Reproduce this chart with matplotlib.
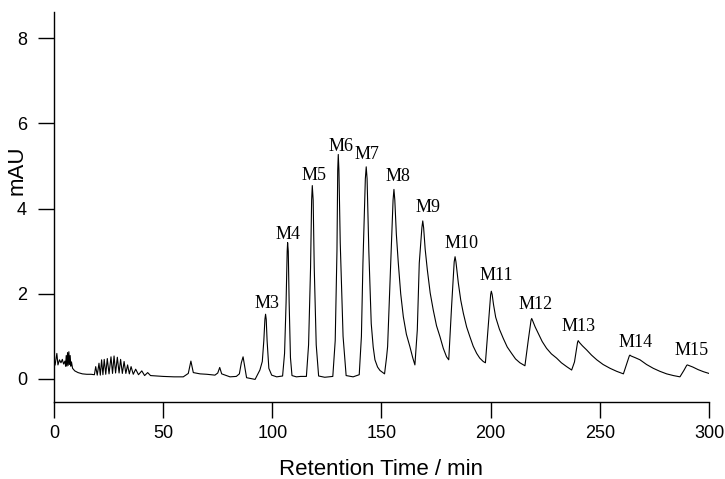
import numpy as np
import matplotlib
matplotlib.use('Agg')
from matplotlib import pyplot as plt


# chromatogram trace (retention time in min, signal in mAU)
time = [0.5, 1.3, 1.8, 2.5, 3.2, 3.8, 4.4, 5.0,
        5.3, 5.6, 5.9, 6.2, 6.5, 6.8, 7.1, 7.4, 7.7, 8.0, 8.5, 9.5,
        11.0, 13.0, 15.0, 17.0, 18.5,
        19.1, 19.8, 20.6, 21.2, 21.8, 22.4, 23.0, 23.7, 24.4, 25.2,
        26.1, 26.8, 27.5, 28.2, 29.0, 29.8, 30.5, 31.3, 32.1, 32.9,
        33.7, 34.5, 35.3, 36.3, 37.4, 38.7, 40.2, 41.5, 42.9, 44.2,
        47.0, 50.0, 55.0, 59.2, 61.5, 62.7, 63.8, 66.9, 70.0, 73.7,
        75.0, 75.9, 76.8, 80.6, 83.5, 84.9, 85.8, 86.6, 87.3, 88.2,
        92.1, 94.3, 95.4, 96.1, 96.6, 96.9, 97.2, 97.6, 98.4, 99.7,
        102.0, 104.7, 105.6, 106.3, 106.8, 107.0, 107.3, 107.7, 108.3, 109.0,
        111.0, 113.0, 115.6, 116.6, 117.5, 118.0, 118.3, 118.7, 119.2, 120.1,
        121.2, 124.0, 127.7, 128.8, 129.6, 129.95, 130.2, 130.5, 131.1, 132.4,
        133.8, 137.0, 139.8, 140.8, 141.5, 142.6, 143.0, 143.4, 144.2, 145.3,
        146.2, 147.0, 148.2, 149.3, 151.4, 152.3, 152.8, 154.2, 155.3, 155.7,
        156.1, 156.8, 157.7, 158.8, 160.0, 161.4, 163.0, 164.3, 165.3, 166.4,
        167.3, 168.5, 168.9, 169.3, 170.0, 171.0, 172.3, 173.7, 175.2, 176.8,
        178.3, 179.8, 180.8, 182.1, 183.3, 183.7, 184.1, 185.2, 186.3, 187.5,
        189.0, 190.5, 192.0, 193.6, 195.0, 196.6, 197.6, 199.0, 200.0, 200.3,
        200.7, 201.3, 202.3, 204.0, 205.8, 207.6, 209.6, 211.4, 213.4, 215.7,
        217.2, 218.5, 218.8, 219.3, 220.4, 221.8, 223.6, 225.6, 227.8, 230.2,
        232.4, 234.8, 237.1, 238.4, 239.8, 240.1, 240.6, 242.0, 244.0, 246.2,
        248.6, 251.5, 254.7, 257.7, 260.8, 262.3, 263.5, 263.8, 264.3, 266.2,
        268.4, 271.4, 274.5, 277.5, 280.6, 283.7, 286.7, 288.5, 289.8, 290.1,
        290.6, 292.6, 295.0, 297.5, 300.0]
signal = [0.33, 0.60, 0.33, 0.45, 0.38, 0.46, 0.35, 0.42,
          0.30, 0.55, 0.30, 0.62, 0.32, 0.64, 0.34, 0.55, 0.30, 0.40, 0.25, 0.19,
          0.15, 0.12, 0.11, 0.11, 0.10,
          0.29, 0.09, 0.37, 0.09, 0.45, 0.10, 0.46, 0.11, 0.48, 0.12,
          0.52, 0.13, 0.54, 0.14, 0.51, 0.14, 0.46, 0.13, 0.41, 0.13,
          0.33, 0.12, 0.29, 0.11, 0.23, 0.10, 0.19, 0.08, 0.15, 0.08,
          0.07, 0.06, 0.05, 0.05, 0.13, 0.42, 0.15, 0.12, 0.11, 0.09,
          0.14, 0.27, 0.12, 0.05, 0.06, 0.12, 0.38, 0.52, 0.30, 0.03,
          -0.01, 0.21, 0.41, 0.90, 1.40, 1.52, 1.40, 0.90, 0.25, 0.09,
          0.05, 0.07, 0.60, 1.80, 3.00, 3.20, 3.00, 1.80, 0.50, 0.08,
          0.05, 0.06, 0.06, 0.80, 2.60, 4.20, 4.54, 4.20, 2.60, 0.80,
          0.07, 0.04, 0.06, 0.90, 3.00, 4.90, 5.27, 4.90, 3.20, 1.00,
          0.08, 0.05, 0.10, 1.00, 2.72, 4.70, 4.98, 4.70, 3.00, 1.30,
          0.75, 0.45, 0.28, 0.20, 0.12, 0.50, 0.76, 2.72, 4.20, 4.45,
          4.20, 3.40, 2.72, 2.00, 1.46, 1.05, 0.76, 0.50, 0.33, 1.15,
          2.72, 3.55, 3.71, 3.55, 3.05, 2.56, 2.02, 1.62, 1.25, 0.99,
          0.72, 0.52, 0.45, 1.70, 2.75, 2.87, 2.75, 2.25, 1.85, 1.54,
          1.22, 0.99, 0.77, 0.60, 0.49, 0.41, 0.38, 1.30, 1.98, 2.06,
          1.98, 1.75, 1.45, 1.17, 0.95, 0.75, 0.60, 0.47, 0.38, 0.31,
          0.90, 1.38, 1.42, 1.36, 1.22, 1.07, 0.88, 0.72, 0.59, 0.49,
          0.38, 0.29, 0.21, 0.40, 0.86, 0.90, 0.86, 0.78, 0.68, 0.56,
          0.45, 0.34, 0.25, 0.18, 0.12, 0.35, 0.54, 0.56, 0.54, 0.50,
          0.45, 0.34, 0.25, 0.18, 0.12, 0.08, 0.05, 0.20, 0.32, 0.33,
          0.32, 0.28, 0.22, 0.17, 0.13]

peak_names = ['M3', 'M4', 'M5', 'M6', 'M7', 'M8', 'M9', 'M10',
              'M11', 'M12', 'M13', 'M14', 'M15']
label_t = [97.6, 107.3, 119.1, 131.4, 143.4, 157.6, 171.1, 186.6,
           202.5, 220.7, 240.5, 266.6, 292.2]
label_y = [1.78, 3.38, 4.77, 5.45, 5.27, 4.75, 4.03, 3.19,
           2.44, 1.74, 1.24, 0.85, 0.68]

plt.rcParams['font.family'] = ['Liberation Sans', 'DejaVu Sans']

fig = plt.figure(figsize=(7.25, 4.79), dpi=100)
ax = fig.add_axes([0.0745, 0.1608, 0.9034, 0.8142])

ax.plot(time, signal, color='black', lw=0.8)

for name, t, y in zip(peak_names, label_t, label_y):
    ax.text(t, y, name, ha='center', va='center', fontsize=13,
            family=['Liberation Serif', 'DejaVu Serif'])

ax.set_xlim(0, 300)
ax.set_ylim(-0.54, 8.615)
ax.set_xticks(np.arange(0, 301, 50))
ax.set_yticks([0, 2, 4, 6, 8])

ax.spines['top'].set_visible(False)
ax.spines['right'].set_visible(False)
ax.spines['left'].set_linewidth(1.0)
ax.spines['bottom'].set_linewidth(1.0)
ax.tick_params(axis='x', direction='out', length=11.5, width=1.0,
               pad=5, labelsize=13)
ax.tick_params(axis='y', direction='out', length=11.5, width=1.0,
               pad=8, labelsize=13)

ax.set_xlabel('Retention Time / min', fontsize=16, labelpad=12)
ax.set_ylabel('mAU', fontsize=16)
ax.yaxis.set_label_coords(-0.041, 0.595)

plt.savefig('out.png', dpi=100)
